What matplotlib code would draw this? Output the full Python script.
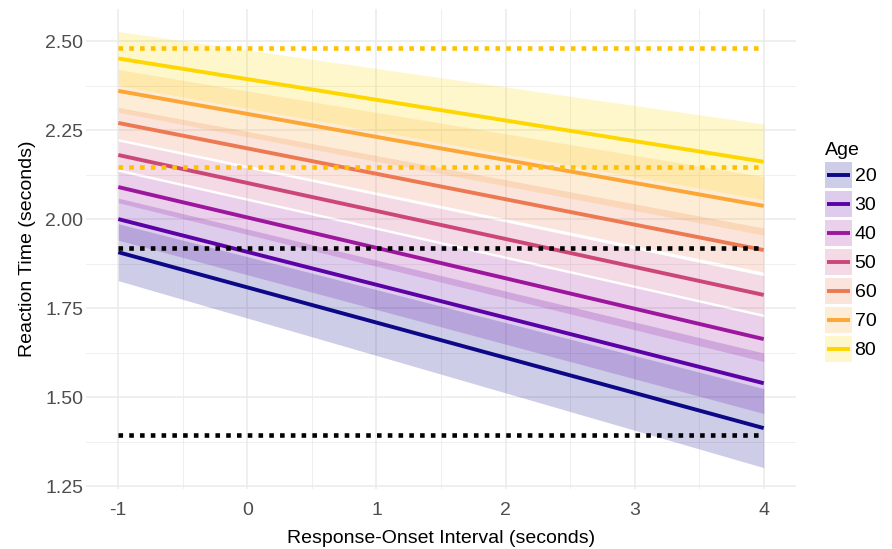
import numpy as np
import matplotlib
matplotlib.use("Agg")
import matplotlib.pyplot as plt
from matplotlib.patches import Rectangle
from matplotlib.lines import Line2D
from matplotlib.legend_handler import HandlerBase
from matplotlib.ticker import MultipleLocator

plt.rcParams['font.family'] = ['Liberation Sans', 'DejaVu Sans']

# data
roi = [-1, 4]
ages = [20, 30, 40, 50, 60, 70, 80]
rt_start = [1.907, 2.000, 2.090, 2.180, 2.270, 2.360, 2.451]
rt_end = [1.413, 1.539, 1.663, 1.787, 1.913, 2.037, 2.161]
ci_start = [0.080, 0.059, 0.044, 0.039, 0.044, 0.060, 0.076]
ci_end = [0.111, 0.085, 0.063, 0.054, 0.062, 0.082, 0.106]
colors = ['#0D0887', '#5C01A6', '#9C179E', '#CC4778', '#ED7953', '#FCA636', '#FFD700']

ref_black = [1.393, 1.919]
ref_gold = [2.147, 2.481]


class RibbonKey(HandlerBase):
    # ggplot-style key: light fill with the line across its middle
    def create_artists(self, legend, orig_handle, xdescent, ydescent,
                       width, height, fontsize, trans):
        c = orig_handle.get_color()
        rect = Rectangle((-xdescent, -ydescent), width, height, facecolor=c,
                         alpha=0.2, linewidth=0, transform=trans)
        ym = -ydescent + height / 2
        pad = 0.08 * width
        line = Line2D([-xdescent + pad, -xdescent + width - pad], [ym, ym],
                      color=c, lw=orig_handle.get_linewidth(),
                      solid_capstyle='butt', transform=trans)
        return [rect, line]


fig = plt.figure(figsize=(8.92, 5.49), dpi=100)
ax = fig.add_axes([86/892, 1-489/549, (796-86)/892, (489-9)/549])

for age, y0, y1, h0, h1, c in zip(ages, rt_start, rt_end, ci_start, ci_end, colors):
    y = np.array([y0, y1])
    h = np.array([h0, h1])
    ax.fill_between(roi, y - h, y + h, color=c, alpha=0.2, linewidth=0, zorder=1)
handles = []
for age, y0, y1, c in zip(ages, rt_start, rt_end, colors):
    ln, = ax.plot(roi, [y0, y1], color=c, lw=2.8, solid_capstyle='butt', zorder=2)
    handles.append(ln)

for v in ref_black:
    ax.plot(roi, [v, v], color='black', lw=3.3, dashes=(1.0, 1.35),
            dash_capstyle='butt', zorder=3)
for v in ref_gold:
    ax.plot(roi, [v, v], color='#FFC000', lw=3.3, dashes=(1.0, 1.35),
            dash_capstyle='butt', zorder=3)

ax.set_xlim(-1.25, 4.25)
ax.set_ylim(1.242, 2.590)
ax.xaxis.set_minor_locator(MultipleLocator(0.5))
ax.yaxis.set_minor_locator(MultipleLocator(0.125))
ax.set_xticks([-1, 0, 1, 2, 3, 4])
ax.set_xticklabels(['-1', '0', '1', '2', '3', '4'])
ax.set_yticks([1.25, 1.5, 1.75, 2.0, 2.25, 2.5])
ax.set_yticklabels(['1.25', '1.50', '1.75', '2.00', '2.25', '2.50'])

ax.grid(which='major', color='#EBEBEB', lw=1.1, zorder=0)
ax.grid(which='minor', color='#EBEBEB', lw=0.55, zorder=0)
ax.set_axisbelow(True)
for s in ax.spines.values():
    s.set_visible(False)
ax.tick_params(which='both', length=0)
ax.tick_params(axis='both', labelsize=14, labelcolor='#4D4D4D')
ax.tick_params(axis='x', pad=9.6)
ax.tick_params(axis='y', pad=2)

ax.set_xlabel('Response-Onset Interval (seconds)', fontsize=14, labelpad=7.5)
ax.set_ylabel('Reaction Time (seconds)', fontsize=14, labelpad=7)

leg = ax.legend(handles, [str(a) for a in ages], title='Age', loc='upper left',
                handler_map={Line2D: RibbonKey()},
                bbox_to_anchor=(825/892, 1-142/549), bbox_transform=fig.transFigure,
                frameon=False, fontsize=14, title_fontsize=14,
                handlelength=1.4, handleheight=1.68, labelspacing=0.155,
                handletextpad=0.12, borderpad=0, borderaxespad=0,
                alignment='left')

fig.savefig('out.png', dpi=100)
